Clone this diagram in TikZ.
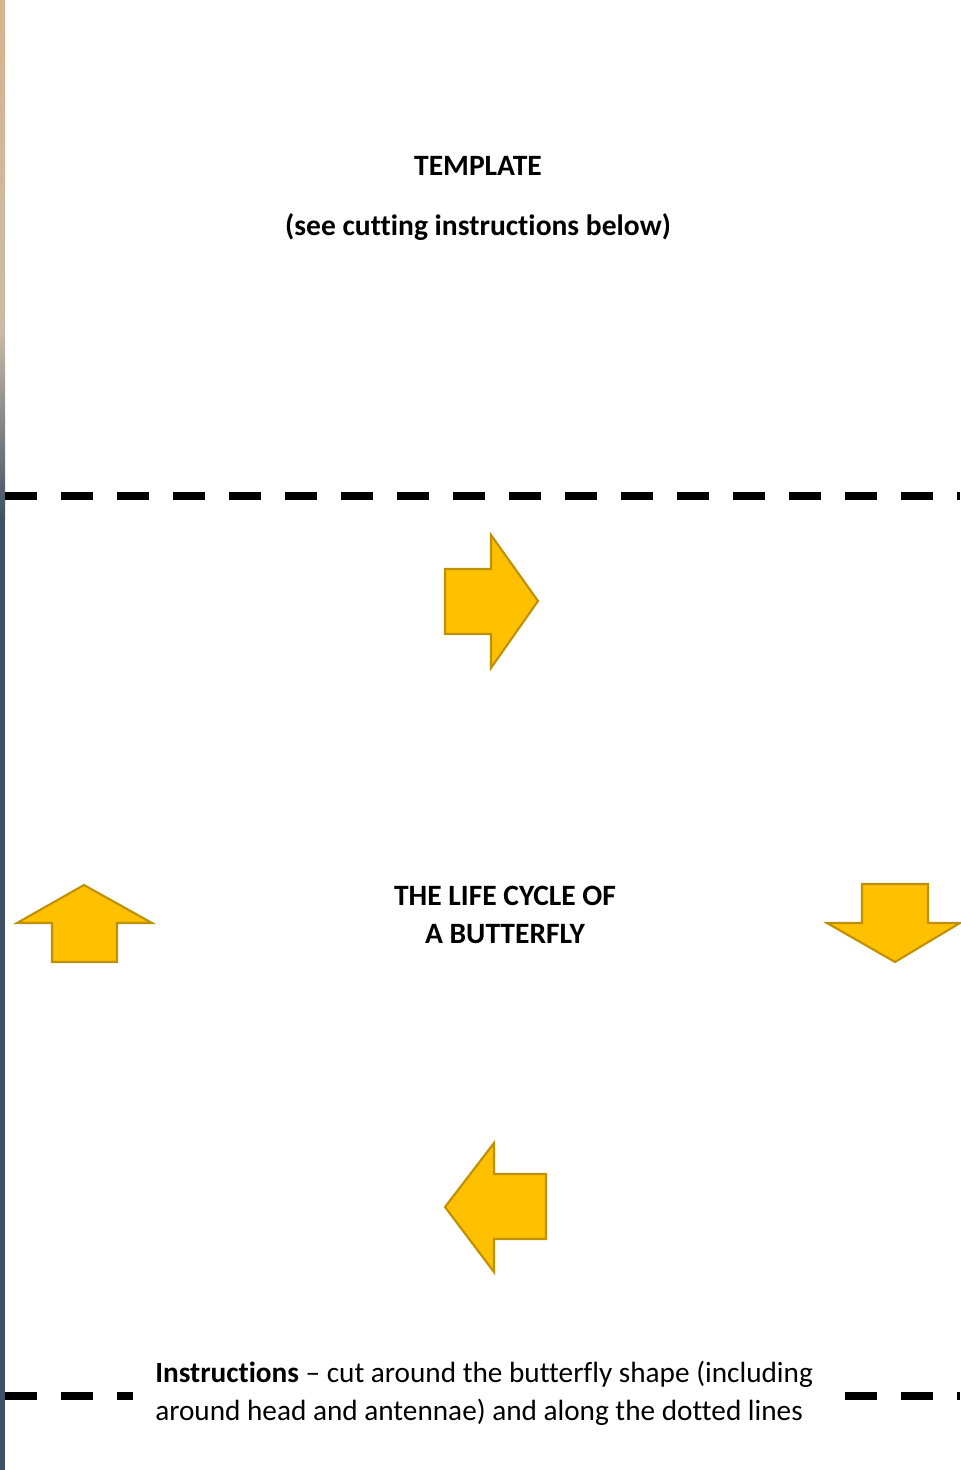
\documentclass[tikz,border=0pt]{standalone}
\usepackage{fontspec}
\setmainfont{Carlito}[Ligatures=NoCommon]
\usepackage{tikz}

\definecolor{arrowfill}{HTML}{FFC000}
\definecolor{arrowline}{HTML}{BF9000}
\definecolor{photoTop}{HTML}{D9B38C}
\definecolor{photoMid}{HTML}{C9BBA8}
\definecolor{photoLow}{HTML}{3F5064}

\tikzset{
    blockarrow/.style={fill=arrowfill, draw=arrowline, line width=1.5pt, line join=miter},
    cutline/.style={line width=5.7pt, dash pattern=on 22.76pt off 17.07pt},
    heading/.style={font=\fontsize{21}{27}\selectfont\bfseries, inner sep=0pt},
    body/.style={font=\fontsize{20.8}{27}\selectfont, inner sep=0pt, align=left}
}

\begin{document}
\begin{tikzpicture}[x=0.025cm, y=-0.025cm]
        \useasboundingbox (0,0) rectangle (960,1470);

        % strip of photo at the left edge
        \shade[top color=photoTop, bottom color=photoMid] (0,0) rectangle (5,330);
        \shade[top color=photoMid, bottom color=photoLow] (0,330) rectangle (5,520);
        \fill[photoLow] (0,520) rectangle (5,1470);

        \node[heading, anchor=base] (title) at (478,176) {TEMPLATE};
        \node[heading, anchor=base] (sub) at (478,236) {(see cutting instructions below)};
        \node[heading, anchor=base] (cycle1) at (505,905) {THE LIFE CYCLE OF};
        \node[heading, anchor=base] (cycle2) at (505,943) {A BUTTERFLY};
        \node[body, anchor=base west] (instr) at (155,1420)
            {\textbf{Instructions} -- cut around the butterfly shape (including\\
             around head and antennae) and along the dotted lines};

        % cutting lines
        \draw[cutline] (5,496) -- (960,496);
        \draw[cutline] (5,1396) -- (133,1396);
        \draw[cutline] (845,1396) -- (960,1396);

        % arrows
        \draw[blockarrow] (445,569) -- (491,569) -- (491,535) -- (538,601)
            -- (491,668) -- (491,634) -- (445,634) -- cycle;
        \draw[blockarrow] (862,884) -- (928,884) -- (928,923) -- (960,923)
            -- (895,962) -- (827,923) -- (862,923) -- cycle;
        \draw[blockarrow] (546,1174) -- (494,1174) -- (494,1143) -- (445,1207)
            -- (494,1272) -- (494,1239) -- (546,1239) -- cycle;
        \draw[blockarrow] (52,962) -- (52,923) -- (17,923) -- (84,885)
            -- (152,923) -- (117,923) -- (117,962) -- cycle;
\end{tikzpicture}
\end{document}
